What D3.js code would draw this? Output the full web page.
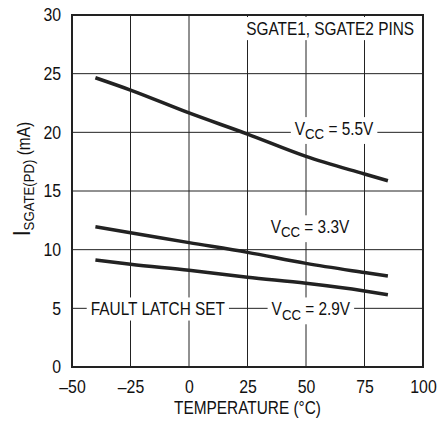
<!DOCTYPE html>
<meta charset="utf-8">
<style>
body { margin: 0; background: #fff; }
text { font-family: "Liberation Sans", Arial, sans-serif; fill: #111; }
.grid line { stroke: #222; stroke-width: 1; }
.curve { fill: none; stroke: #222; stroke-width: 3.5; stroke-linecap: butt; }
</style>
<svg width="438" height="423"></svg>
<script src="https://d3js.org/d3.v7.min.js"></script>
<script>

var xTicks = [-50, -25, 0, 25, 50, 75, 100];
var yTicks = [0, 5, 10, 15, 20, 25, 30];
var temps = [-40, -25, 0, 25, 50, 75, 85];
var vcc55 = [24.65, 23.6, 21.65, 19.85, 17.95, 16.45, 15.87];
var vcc33 = [11.95, 11.45, 10.6, 9.77, 8.83, 8.05, 7.75];
var vcc29 = [9.12, 8.75, 8.24, 7.64, 7.13, 6.48, 6.16];

var SX = 0.88; // squeeze to mimic a narrow face

var svg = d3.select("svg");
var margin = {top: 15, right: 15, bottom: 56, left: 72};
var width = 438 - margin.left - margin.right,
    height = 423 - margin.top - margin.bottom;

var x = d3.scaleLinear().domain([-50, 100]).range([margin.left, margin.left + width]);
var y = d3.scaleLinear().domain([0, 30]).range([margin.top + height, margin.top]);

function squeeze(sel) {
  sel.each(function() {
    var t = d3.select(this);
    var tx = +t.attr("x") || 0, ty = +t.attr("y") || 0;
    t.attr("x", 0).attr("y", 0)
     .attr("transform", "translate(" + tx + "," + ty + ") scale(" + SX + ",1)");
  });
}

// grid
var grid = svg.append("g").attr("class", "grid");
grid.selectAll(".vx").data(xTicks.slice(1, -1)).enter().append("line")
    .attr("x1", d => x(d)).attr("x2", d => x(d))
    .attr("y1", y(0)).attr("y2", y(30));
grid.selectAll(".hy").data(yTicks.slice(1, -1)).enter().append("line")
    .attr("x1", x(-50)).attr("x2", x(100))
    .attr("y1", d => y(d)).attr("y2", d => y(d));

// labels with white boxes that break the grid
var labels = svg.append("g");
function label(t, ty, anchor, parts) {
  var g = labels.append("g");
  var txt = g.append("text")
      .attr("x", x(t)).attr("y", y(ty))
      .attr("text-anchor", anchor)
      .attr("font-size", 17.5);
  parts.forEach(function(p) {
    var s = txt.append("tspan").text(p[0]);
    if (p[1]) s.attr("baseline-shift", "-25%").attr("font-size", 15);
  });
  squeeze(txt);
  var bb = txt.node().getBBox();
  var tx = x(t);
  var left = anchor == "end" ? tx - bb.width * SX : anchor == "middle" ? tx - bb.width * SX / 2 : tx;
  g.insert("rect", "text")
      .attr("x", left - 4).attr("y", y(ty) + bb.y - 2)
      .attr("width", bb.width * SX + 8).attr("height", bb.height + 4)
      .attr("fill", "#fff");
}
label(96.2, 28.3, "end", [["SGATE1, SGATE2 PINS"]]);
label(62, 19.77, "middle", [["V"], ["CC", 1], [" = 5.5V"]]);
label(51.7, 11.4, "middle", [["V"], ["CC", 1], [" = 3.3V"]]);
label(-42, 4.4, "start", [["FAULT LATCH SET"]]);
label(35.3, 4.4, "start", [["V"], ["CC", 1], [" = 2.9V"]]);

// curves
var line = d3.line().curve(d3.curveMonotoneX)
    .x((d, i) => x(temps[i])).y(d => y(d));
[vcc55, vcc33, vcc29].forEach(function(s) {
  svg.append("path").attr("class", "curve").attr("d", line(s));
});

// frame
svg.append("rect")
    .attr("x", x(-50)).attr("y", y(30))
    .attr("width", x(100) - x(-50)).attr("height", y(0) - y(30))
    .attr("fill", "none").attr("stroke", "#222").attr("stroke-width", 2);

// axes
var xAxis = d3.axisBottom(x).tickValues(xTicks).tickSize(0).tickPadding(13)
    .tickFormat(d => d < 0 ? "\u2013" + Math.abs(d) : d);
svg.append("g").attr("transform", "translate(0," + y(0) + ")").call(xAxis)
  .call(g => g.select(".domain").remove())
  .selectAll("text").attr("font-size", 18).attr("fill", "#111")
    .attr("font-family", "Liberation Sans, Arial, sans-serif")
    .call(squeeze);

var yAxis = d3.axisLeft(y).tickValues(yTicks).tickSize(0).tickPadding(11);
svg.append("g").attr("transform", "translate(" + x(-50) + ",0)").call(yAxis)
  .call(g => g.select(".domain").remove())
  .selectAll("text").attr("font-size", 18).attr("fill", "#111")
    .attr("font-family", "Liberation Sans, Arial, sans-serif")
    .call(squeeze);

svg.append("text")
    .attr("x", x(25)).attr("y", 414)
    .attr("text-anchor", "middle").attr("font-size", 17.5)
    .text("TEMPERATURE (\u00B0C)")
    .call(squeeze);

var yt = svg.append("text")
    .attr("x", 0).attr("y", 0)
    .attr("text-anchor", "middle").attr("font-size", 17.5);
yt.append("tspan").attr("font-size", 23).text("I");
yt.append("tspan").attr("baseline-shift", "-25%").attr("font-size", 15).text("SGATE(PD)");
yt.append("tspan").text(" (mA)");
yt.attr("transform", "translate(30," + (y(15) - 12) + ") rotate(-90) scale(" + SX + ",1)");

</script>
